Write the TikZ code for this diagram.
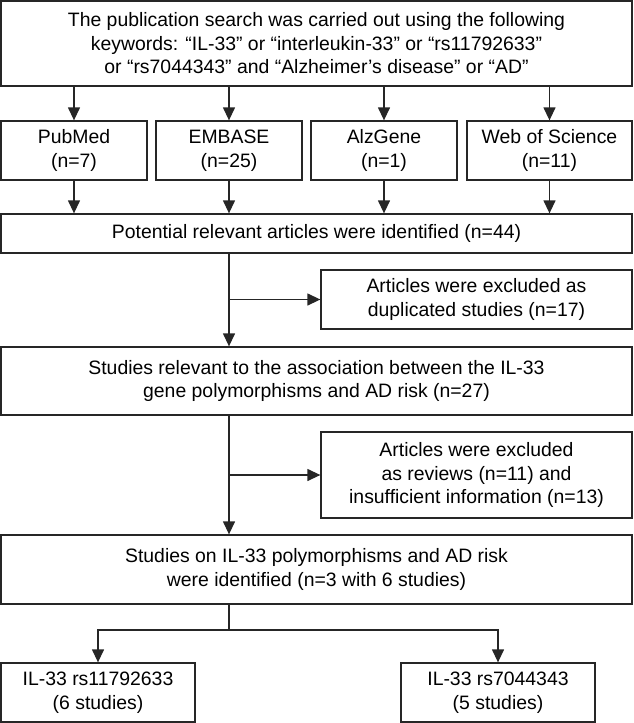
\documentclass[tikz,border=0pt]{standalone}
\usepackage{fontspec}
\setmainfont{Liberation Sans}
\usetikzlibrary{arrows.meta}
\begin{document}
\begin{tikzpicture}[x=1pt,y=-1pt,
        box/.style={draw=black!85,line width=1.3pt,rectangle,align=center,inner sep=0pt,
            minimum height=59pt,font=\fontsize{19.4}{23.5}\selectfont},
        arr/.style={draw=black!85,line width=1.3pt,-{Triangle[width=12pt,length=13pt]}},
        lnk/.style={draw=black!85,line width=1.3pt}]
                \useasboundingbox (0,0) rectangle (634,723);
                \node[box,minimum width=631pt,minimum height=85pt] (search) at (316.5,43.5)
                    {The publication search was carried out using the following\\
                     keywords: “IL-33” or “interleukin-33” or “rs11792633”\\
                     or “rs7044343” and “Alzheimer’s disease” or “AD”};
                \foreach \nm/\cx/\bw/\txt in {pm/74/146/{PubMed\\(n=7)},em/229/146/{EMBASE\\(n=25)},
                        ag/384/146/{AlzGene\\(n=1)},ws/549.5/165/{Web of Science\\(n=11)}} {
                    \node[box,minimum width=\bw pt] (\nm) at (\cx,150.5) {\txt};
                }
                \node[box,minimum width=631pt,minimum height=39pt] (pot) at (316.5,233.5)
                    {Potential relevant articles were identified (n=44)};
                \foreach \nm in {pm,em,ag,ws} {
                    \draw[arr] (search.south -| \nm.north) -- (\nm.north);
                    \draw[arr] (\nm.south) -- (\nm.south |- pot.north);
                }
                \node[box,minimum width=311pt] (excla) at (476.5,299.5)
                    {Articles were excluded as\\duplicated studies (n=17)};
                \node[box,minimum width=631pt,minimum height=68pt] (rel) at (316.5,381)
                    {Studies relevant to the association between the IL-33\\
                     gene polymorphisms and AD risk (n=27)};
                \node[box,minimum width=311pt,minimum height=86pt] (exclb) at (476.5,475)
                    {Articles were excluded\\as reviews (n=11) and\\insufficient information (n=13)};
                \node[box,minimum width=631pt,minimum height=69pt] (incl) at (316.5,569.5)
                    {Studies on IL-33 polymorphisms and AD risk\\
                     were identified (n=3 with 6 studies)};
                \node[box,minimum width=194pt] (snpa) at (98,692.5) {IL-33 rs11792633\\(6 studies)};
                \node[box,minimum width=194pt] (snpb) at (498,692.5) {IL-33 rs7044343\\(5 studies)};
                \draw[arr] (pot.south -| em.south) -- (rel.north -| em.south);
                \draw[arr] (excla.west -| em.south) -- (excla.west);
                \draw[arr] (rel.south -| em.south) -- (incl.north -| em.south);
                \draw[arr] (exclb.west -| em.south) -- (exclb.west);
                \coordinate (split) at (229,630);
                \draw[lnk] (incl.south -| split) -- (split);
                \draw[arr] (split) -| (snpa.north);
                \draw[arr] (split) -| (snpb.north);
            \end{tikzpicture}
\end{document}
